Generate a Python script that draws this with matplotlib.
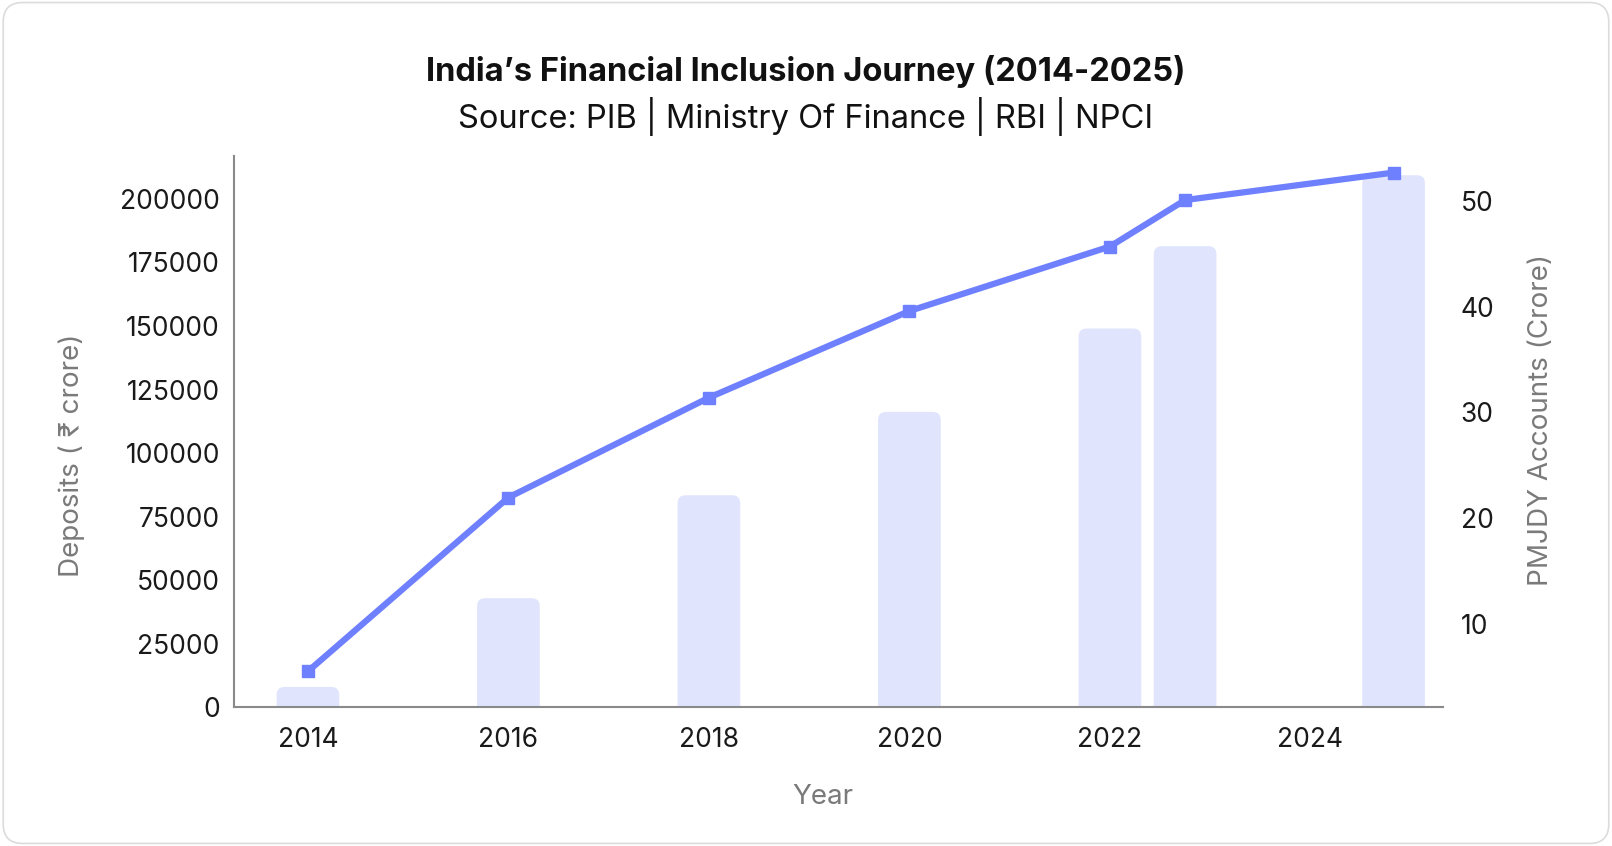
import numpy as np
import matplotlib.pyplot as plt
from matplotlib.patches import FancyBboxPatch

# Data
years = [2014, 2016, 2018, 2020, 2022, 2022.75, 2024.83]
deposits = [8000, 42900, 83400, 116200, 149000, 181400, 209300]   # Rs crore
accounts = [5.5, 21.95, 31.4, 39.6, 45.7, 50.1, 52.7]             # crore
year_ticks = [2014, 2016, 2018, 2020, 2022, 2024]
dep_ticks = [0, 25000, 50000, 75000, 100000, 125000, 150000, 175000, 200000]
acc_ticks = [10, 20, 30, 40, 50]

plt.rcParams['font.family'] = ['Inter', 'DejaVu Sans']

bar_color = '#E0E4FD'
line_color = '#6F80FF'
label_gray = '#7A7A7A'
tick_color = '#1A1A1A'

fig = plt.figure(figsize=(16.12, 8.46), dpi=100)
fig.patch.set_facecolor('white')

# card border
card = FancyBboxPatch((0.002, 0.003), 0.996, 0.994,
                      boxstyle='round,pad=0,rounding_size=0.012',
                      mutation_aspect=1612 / 846, transform=fig.transFigure,
                      fc='white', ec='#DCDCDC', lw=1.2, zorder=-1)
fig.patches.append(card)

ax = fig.add_axes([0.145, 0.164, 0.750, 0.652])
ax.set_xlim(2013.26, 2025.32)
ax.set_ylim(0, 217000)

# rounded-top bars
bar_w = 0.625
p0 = ax.transData.transform((0, 0))
px_x = ax.transData.transform((1, 0))[0] - p0[0]
px_y = ax.transData.transform((0, 1))[1] - p0[1]
aspect = px_x / px_y
for x, d in zip(years, deposits):
    bar = FancyBboxPatch((x - bar_w / 2, -20000), bar_w, d + 20000,
                         boxstyle='round,pad=0,rounding_size=0.08',
                         mutation_aspect=aspect, fc=bar_color, ec='none')
    ax.add_patch(bar)

ax.set_xticks(year_ticks)
ax.set_xticklabels([str(y) for y in year_ticks])
ax.set_yticks(dep_ticks)
ax.tick_params(axis='both', length=0, labelsize=19, labelcolor=tick_color)
ax.tick_params(axis='y', pad=10)
ax.tick_params(axis='x', pad=14)
for s in ['top', 'right']:
    ax.spines[s].set_visible(False)
for s in ['left', 'bottom']:
    ax.spines[s].set_color('#8A8A8A')
    ax.spines[s].set_linewidth(1.5)

ax.set_xlabel('Year', fontsize=20, color=label_gray, va='center')
ax.xaxis.set_label_coords(0.487, -0.162)
ax.set_ylabel('Deposits ( ₹ crore)', fontsize=20, color=label_gray, va='center')
ax.yaxis.set_label_coords(-0.134, 0.456)

# accounts line on the right axis
ax2 = ax.twinx()
ax2.plot(years, accounts, color=line_color, lw=4.5, marker='s', markersize=9)
ax2.set_ylim(2.1, 54.3)
ax2.set_yticks(acc_ticks)
ax2.tick_params(axis='y', length=0, labelsize=19, labelcolor=tick_color, pad=13)
for s in ax2.spines.values():
    s.set_visible(False)
ax2.set_ylabel('PMJDY Accounts (Crore)', fontsize=20, color=label_gray, va='center')
ax2.yaxis.set_label_coords(1.0816, 0.52)

fig.text(0.5, 1 - 72 / 846, 'India’s Financial Inclusion Journey (2014-2025)',
         ha='center', va='center', fontsize=23.5, fontweight='bold', color='#111111')
fig.text(0.5, 1 - 116 / 846, 'Source: PIB | Ministry Of Finance | RBI | NPCI',
         ha='center', va='center', fontsize=23.5, color='#111111')

fig.savefig('out.png', dpi=100)
